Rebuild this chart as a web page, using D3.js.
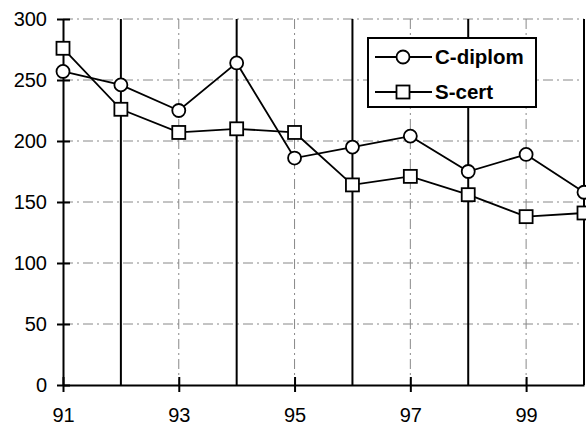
<!DOCTYPE html>
<html>
<head>
<meta charset="utf-8">
<script src="https://cdn.jsdelivr.net/npm/d3@7"></script>
<style>
  body { margin: 0; background: #fff; }
  svg { display: block; font-family: Arial, "Liberation Sans", sans-serif; }
</style>
</head>
<body>
<svg id="chart" width="586" height="425"></svg>
<script>
// Data
var years = [91, 92, 93, 94, 95, 96, 97, 98, 99, 100];
var cDiplom = [257, 246, 225, 264, 186, 195, 204, 175, 189, 158];
var sCert = [276, 226, 207, 210, 207, 164, 171, 156, 138, 141];
var yTicks = [0, 50, 100, 150, 200, 250, 300];
var xTickYears = [91, 93, 95, 97, 99];
var solidYears = [92, 94, 96, 98, 100];
var seriesNames = ["C-diplom", "S-cert"];

var svg = d3.select("#chart");

var x = d3.scaleLinear().domain([91, 100]).range([63, 584]);
var y = d3.scaleLinear().domain([0, 300]).range([385, 19]);

var grid = svg.append("g");

// dash-dot horizontal gridlines
grid.selectAll(".hgrid").data(yTicks.filter(function(d) { return d > 0; }))
  .enter().append("line")
    .attr("x1", x(91)).attr("x2", x(100))
    .attr("y1", function(d) { return y(d); })
    .attr("y2", function(d) { return y(d); })
    .attr("stroke", "#888")
    .attr("stroke-width", 1)
    .attr("stroke-dasharray", "10,4,2,4");

// dash-dot vertical gridlines at odd years
grid.selectAll(".vgrid").data([93, 95, 97, 99])
  .enter().append("line")
    .attr("x1", function(d) { return x(d); })
    .attr("x2", function(d) { return x(d); })
    .attr("y1", y(300)).attr("y2", y(0))
    .attr("stroke", "#888")
    .attr("stroke-width", 1)
    .attr("stroke-dasharray", "10,4,2,4");

// solid black vertical lines at even years
grid.selectAll(".vsolid").data(solidYears)
  .enter().append("line")
    .attr("x1", function(d) { return x(d); })
    .attr("x2", function(d) { return x(d); })
    .attr("y1", y(300)).attr("y2", y(0))
    .attr("stroke", "#000")
    .attr("stroke-width", 2);

// axes
var yAxis = d3.axisLeft(y).tickValues(yTicks).tickSizeInner(6).tickSizeOuter(0).tickPadding(10);
var gy = svg.append("g").attr("transform", "translate(" + x(91) + ",0)").call(yAxis)
    .attr("font-size", null).attr("font-family", null);
gy.select(".domain").attr("stroke-width", 2);
gy.selectAll(".tick line").attr("x2", 7).attr("x1", -6).attr("stroke-width", 2);
gy.selectAll("text").style("font-size", "20px").attr("fill", "#000");

var xAxis = d3.axisBottom(x).tickValues(xTickYears).tickSizeOuter(0).tickPadding(17);
var gx = svg.append("g").attr("transform", "translate(0," + y(0) + ")").call(xAxis)
    .attr("font-size", null).attr("font-family", null);
gx.select(".domain").attr("stroke-width", 2);
gx.selectAll(".tick line").attr("y1", -8).attr("y2", 7).attr("stroke-width", 2);
gx.selectAll("text").style("font-size", "20px").attr("fill", "#000");

// series
var line = d3.line()
  .x(function(d, i) { return x(years[i]); })
  .y(function(d) { return y(d); });

svg.append("path").datum(cDiplom)
  .attr("d", line).attr("fill", "none").attr("stroke", "#000").attr("stroke-width", 1.8);
svg.append("path").datum(sCert)
  .attr("d", line).attr("fill", "none").attr("stroke", "#000").attr("stroke-width", 1.8);

svg.selectAll(".circ").data(cDiplom).enter().append("circle")
  .attr("cx", function(d, i) { return x(years[i]); })
  .attr("cy", function(d) { return y(d); })
  .attr("r", 6.5)
  .attr("fill", "#fff").attr("stroke", "#000").attr("stroke-width", 1.8);

svg.selectAll(".sq").data(sCert).enter().append("rect")
  .attr("x", function(d, i) { return x(years[i]) - 6.5; })
  .attr("y", function(d) { return y(d) - 6.5; })
  .attr("width", 13).attr("height", 13)
  .attr("fill", "#fff").attr("stroke", "#000").attr("stroke-width", 1.8);

// legend
var legend = svg.append("g").attr("transform", "translate(368,38)");
legend.append("rect")
  .attr("width", 168).attr("height", 69)
  .attr("fill", "#fff").attr("stroke", "#000").attr("stroke-width", 2);

var rows = legend.selectAll(".row").data(seriesNames).enter().append("g")
  .attr("transform", function(d, i) { return "translate(0," + (19 + i * 35) + ")"; });
rows.append("line")
  .attr("x1", 7).attr("x2", 64).attr("y1", 0).attr("y2", 0)
  .attr("stroke", "#000").attr("stroke-width", 1.8);
rows.each(function(d, i) {
  var g = d3.select(this);
  if (i === 0) {
    g.append("circle").attr("cx", 35).attr("cy", 0).attr("r", 6.5)
      .attr("fill", "#fff").attr("stroke", "#000").attr("stroke-width", 1.8);
  } else {
    g.append("rect").attr("x", 28.5).attr("y", -6.5).attr("width", 13).attr("height", 13)
      .attr("fill", "#fff").attr("stroke", "#000").attr("stroke-width", 1.8);
  }
});
rows.append("text")
  .attr("x", 67).attr("y", 0).attr("dy", "0.36em")
  .style("font-size", "20.5px").attr("font-weight", "bold")
  .text(function(d) { return d; });
</script>
</body>
</html>
